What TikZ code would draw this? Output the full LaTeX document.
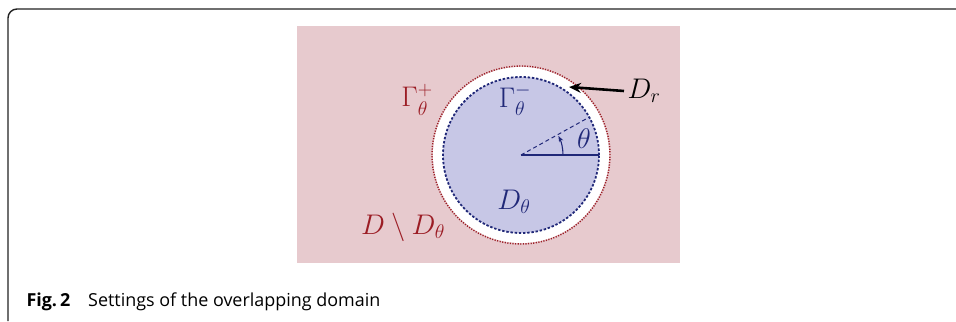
\RequirePackage{fix-cm}
\documentclass[tikz,border=0pt]{standalone}
\usepackage{amsmath,amssymb}
\usepackage{fontspec}
\setsansfont{Open Sans}
\usetikzlibrary{arrows.meta, positioning, calc}
\definecolor{bgpink}{RGB}{231,202,206}
\definecolor{inblue}{RGB}{199,199,230}
\definecolor{navy}{RGB}{32,40,120}
\definecolor{darkred}{RGB}{155,28,36}
\definecolor{frame}{RGB}{34,34,34}

\begin{document}
\begin{tikzpicture}[x=1bp, y=1bp, font=\fontsize{28.5}{32}\selectfont]
  \useasboundingbox (0,0) rectangle (956,321);
  % outer frame and caption
  \draw[frame, line width=1.4bp, rounded corners=9bp] (8,0) -- (8,312) -- (956,312);
  \node[anchor=base west, font=\sffamily\fontsize{18}{20}\selectfont] (cap) at (23,15) {\textbf{Fig.\,2}\quad Settings of the overlapping domain};
  % domain
  \fill[bgpink] (297,58) rectangle (680,295);
  \coordinate (c) at (521,166);
  \fill[white] (c) circle (88);
  \draw[darkred, dash pattern=on 1.2bp off 1.4bp, line width=1.4bp] (c) circle (89);
  \fill[inblue] (c) circle (78);
  \draw[navy, dash pattern=on 2.4bp off 1.8bp, line width=1.8bp] (c) circle (78);
  % angle
  \draw[navy, line width=1.4bp] (c) -- ++(0:78);
  \draw[navy, dash pattern=on 4bp off 3bp, line width=1bp] (c) -- ++(29:78);
  \draw[navy, line width=1.1bp, -{Stealth[length=6bp]}] ($(c)+(0:42)$) arc[start angle=0, end angle=27, radius=42];
  \node[navy] (th) at (584,182) {$\theta$};
  % labels
  \node[darkred] (gp) at (417,221) {$\Gamma_\theta^+$};
  \node[navy] (gm) at (515,221) {$\Gamma_\theta^-$};
  \node[navy] (dt) at (514,119) {$D_\theta$};
  \node[darkred] (ddt) at (403,94) {$D\setminus D_\theta$};
  \node[anchor=west] (dr) at (624,230) {$D_r$};
  \coordinate (tip) at (569,234);
  \draw[line width=2.6bp, -{Stealth[length=12bp, width=10bp]}] (dr.west) -- (tip);
\end{tikzpicture}
\end{document}
